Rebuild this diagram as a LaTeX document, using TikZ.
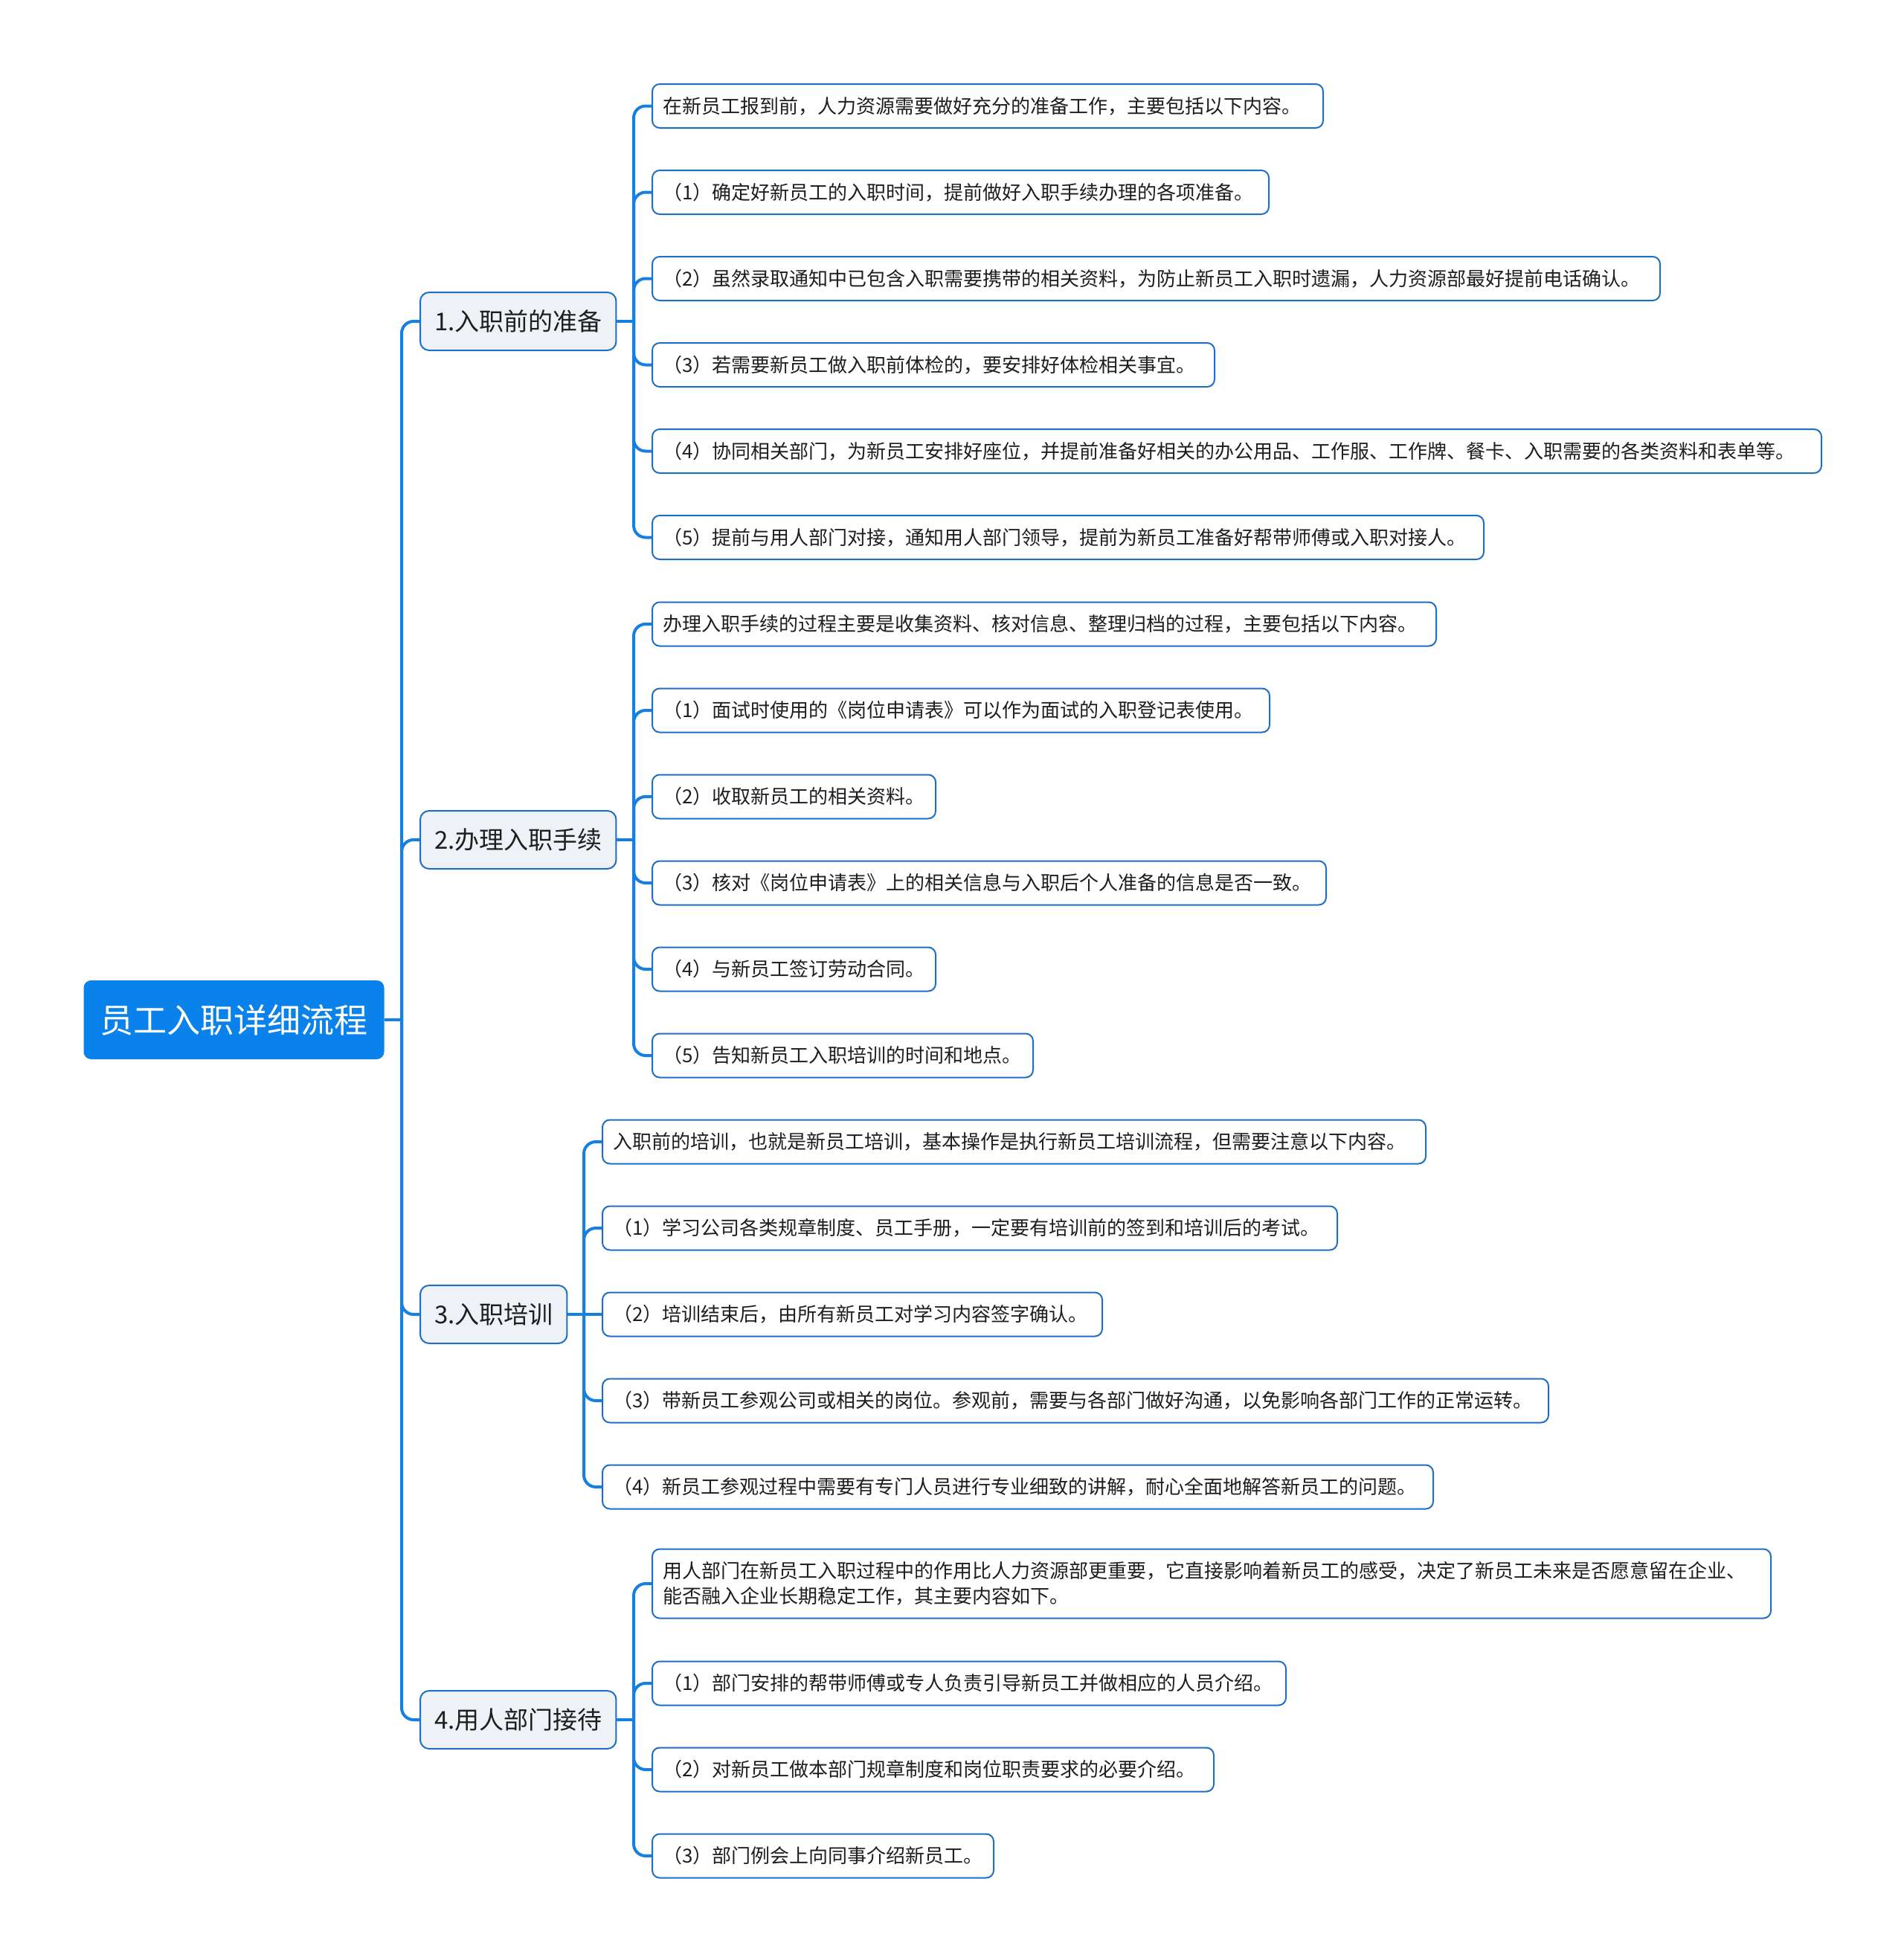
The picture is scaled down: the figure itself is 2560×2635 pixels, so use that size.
\documentclass[tikz,border=0pt]{standalone}
\usepackage{fontspec}
\setmainfont{Noto Sans CJK SC}
\usepackage{tikz}
\usetikzlibrary{positioning}

\definecolor{rootblue}{RGB}{10,130,235}
\definecolor{edgeblue}{RGB}{30,110,200}
\definecolor{linkblue}{RGB}{22,128,226}
\definecolor{topicfill}{RGB}{238,242,247}
\definecolor{inktext}{RGB}{30,30,30}

\begin{document}
\begin{tikzpicture}[x=1pt, y=-1pt,
    rootbox/.style={draw=none, fill=rootblue, rounded corners=10pt, text=white,
                    font=\fontsize{45}{54}\selectfont, inner xsep=22pt, inner ysep=0pt,
                    minimum height=106pt},
    topic/.style={draw=edgeblue, line width=2pt, fill=topicfill, rounded corners=12pt,
                  text=inktext, font=\fontsize{33}{40}\selectfont, inner xsep=19pt,
                  inner ysep=0pt, minimum height=78pt, anchor=west},
    leaf/.style={draw=edgeblue, line width=2pt, fill=white, rounded corners=10pt,
                 text=inktext, font=\fontsize{26}{34}\selectfont, align=left,
                 inner xsep=14pt, inner ysep=0pt, minimum height=59pt,
                 anchor=west, text width=#1},
    link/.style={draw=linkblue, line width=4pt, rounded corners=16pt}
]
    \useasboundingbox (0,0) rectangle (2560,2635);

    % --- Root ---
    \node[rootbox] (root) at (314.5,1371) {员工入职详细流程};

    % --- Main topics ---
    \node[topic] (prep)  at (564,432)  {1.入职前的准备};
    \node[topic] (proc)  at (564,1129) {2.办理入职手续};
    \node[topic] (train) at (564,1767) {3.入职培训};
    \node[topic] (dept)  at (564,2312) {4.用人部门接待};

    % --- 1. preparation ---
    \node[leaf=874pt]  (prep0) at (876,142.5) {在新员工报到前，人力资源需要做好充分的准备工作，主要包括以下内容。};
    \node[leaf=801pt]  (prep1) at (876,258.5) {（1）确定好新员工的入职时间，提前做好入职手续办理的各项准备。};
    \node[leaf=1327pt] (prep2) at (876,374.5) {（2）虽然录取通知中已包含入职需要携带的相关资料，为防止新员工入职时遗漏，人力资源部最好提前电话确认。};
    \node[leaf=728pt]  (prep3) at (876,490.5) {（3）若需要新员工做入职前体检的，要安排好体检相关事宜。};
    \node[leaf=1544pt] (prep4) at (876,606.5) {（4）协同相关部门，为新员工安排好座位，并提前准备好相关的办公用品、工作服、工作牌、餐卡、入职需要的各类资料和表单等。};
    \node[leaf=1090pt] (prep5) at (876,722.5) {（5）提前与用人部门对接，通知用人部门领导，提前为新员工准备好帮带师傅或入职对接人。};

    % --- 2. procedures ---
    \node[leaf=1026pt] (proc0) at (876,839)  {办理入职手续的过程主要是收集资料、核对信息、整理归档的过程，主要包括以下内容。};
    \node[leaf=802pt]  (proc1) at (876,955)  {（1）面试时使用的《岗位申请表》可以作为面试的入职登记表使用。};
    \node[leaf=353pt]  (proc2) at (876,1071) {（2）收取新员工的相关资料。};
    \node[leaf=878pt]  (proc3) at (876,1187) {（3）核对《岗位申请表》上的相关信息与入职后个人准备的信息是否一致。};
    \node[leaf=353pt]  (proc4) at (876,1303) {（4）与新员工签订劳动合同。};
    \node[leaf=484pt]  (proc5) at (876,1419) {（5）告知新员工入职培训的时间和地点。};

    % --- 3. training ---
    \node[leaf=1079pt] (train0) at (809,1535) {入职前的培训，也就是新员工培训，基本操作是执行新员工培训流程，但需要注意以下内容。};
    \node[leaf=960pt]  (train1) at (809,1651) {（1）学习公司各类规章制度、员工手册，一定要有培训前的签到和培训后的考试。};
    \node[leaf=644pt]  (train2) at (809,1767) {（2）培训结束后，由所有新员工对学习内容签字确认。};
    \node[leaf=1244pt] (train3) at (809,1883) {（3）带新员工参观公司或相关的岗位。参观前，需要与各部门做好沟通，以免影响各部门工作的正常运转。};
    \node[leaf=1089pt] (train4) at (809,1999) {（4）新员工参观过程中需要有专门人员进行专业细致的讲解，耐心全面地解答新员工的问题。};

    % --- 4. department reception ---
    \node[leaf=1476pt, minimum height=93pt] (dept0) at (876,2129)
        {用人部门在新员工入职过程中的作用比人力资源部更重要，它直接影响着新员工的感受，决定了新员工未来是否愿意留在企业、\\能否融入企业长期稳定工作，其主要内容如下。};
    \node[leaf=824pt] (dept1) at (876,2263) {（1）部门安排的帮带师傅或专人负责引导新员工并做相应的人员介绍。};
    \node[leaf=727pt] (dept2) at (876,2379) {（2）对新员工做本部门规章制度和岗位职责要求的必要介绍。};
    \node[leaf=431pt] (dept3) at (876,2495) {（3）部门例会上向同事介绍新员工。};

    % --- Connections ---
    \coordinate (hub)      at (540,1371);
    \coordinate (hubprep)  at (852,432);
    \coordinate (hubproc)  at (852,1129);
    \coordinate (hubtrain) at (785,1767);
    \coordinate (hubdept)  at (852,2312);

    \draw[link] (root.east) -- (hub);
    \foreach \t in {prep, proc, train, dept}
        \draw[link] (hub) |- (\t.west);

    \draw[link] (prep.east) -- (hubprep);
    \foreach \c in {prep0, prep1, prep2, prep3, prep4, prep5}
        \draw[link] (hubprep) |- (\c.west);

    \draw[link] (proc.east) -- (hubproc);
    \foreach \c in {proc0, proc1, proc2, proc3, proc4, proc5}
        \draw[link] (hubproc) |- (\c.west);

    \draw[link] (train.east) -- (hubtrain);
    \foreach \c in {train0, train1, train3, train4}
        \draw[link] (hubtrain) |- (\c.west);
    \draw[link] (hubtrain) -- (train2.west);

    \draw[link] (dept.east) -- (hubdept);
    \foreach \c in {dept0, dept1, dept2, dept3}
        \draw[link] (hubdept) |- (\c.west);
\end{tikzpicture}
\end{document}
